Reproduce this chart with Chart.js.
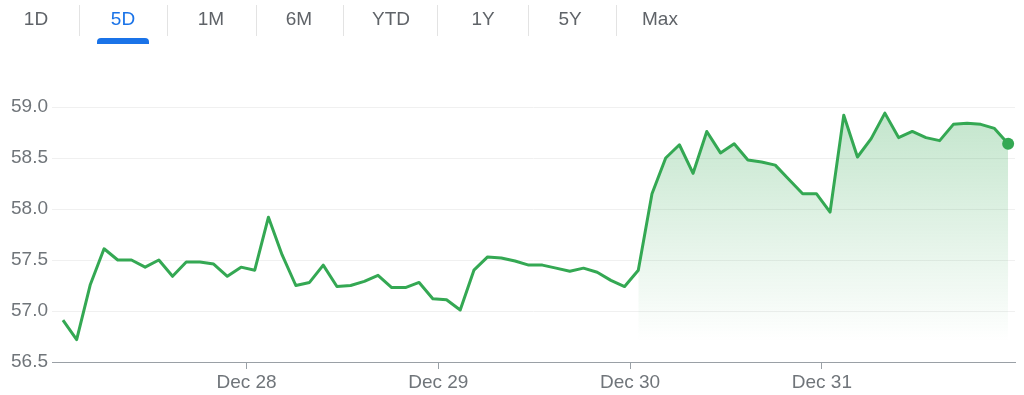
<!DOCTYPE html>
<html>
<head>
<meta charset="utf-8">
<script src="https://cdn.jsdelivr.net/npm/chart.js@4/dist/chart.umd.min.js"></script>
<style>
  html, body { margin:0; padding:0; background:#fff; }
  body { width:1024px; height:395px; position:relative; overflow:hidden; font-family:Arial, "Liberation Sans", sans-serif; }
  #tabs { position:absolute; left:0; top:0; width:1024px; height:50px; }
  .tab { position:absolute; top:8px; font-size:19px; color:#5f6368; transform:translateX(-50%); white-space:nowrap; }
  .tab.active { color:#1a73e8; }
  .sep { position:absolute; top:5px; width:1px; height:31px; background:#e3e3e3; }
  #underline { position:absolute; left:97px; top:38px; width:52px; height:6px; background:#1a73e8; border-radius:4px 4px 0 0; }
  #wrap { position:absolute; left:0; top:0; width:1024px; height:395px; }
</style>
</head>
<body>
<div id="wrap"><canvas id="chart" width="1024" height="395"></canvas></div>
<div id="tabs"></div>
<script>
// 5 day price series, one point every ~30 min
const prices = [
  56.91, 56.72, 57.26, 57.61, 57.50, 57.50, 57.43, 57.50, 57.34, 57.48,
  57.48, 57.46, 57.34, 57.43, 57.40, 57.92, 57.55, 57.25, 57.28, 57.45,
  57.24, 57.25, 57.29, 57.35, 57.23, 57.23, 57.28, 57.12, 57.11, 57.01,
  57.40, 57.53, 57.52, 57.49, 57.45, 57.45, 57.42, 57.39, 57.42, 57.38,
  57.30, 57.24, 57.40, 58.15, 58.50, 58.63, 58.35, 58.76, 58.55, 58.64,
  58.48, 58.46, 58.43, 58.29, 58.15, 58.15, 57.97, 58.92, 58.51, 58.69,
  58.94, 58.70, 58.76, 58.70, 58.67, 58.83, 58.84, 58.83, 58.79, 58.64
];
const fillFrom = 42;
const tickPositions = [13.4, 27.4, 41.4, 55.4];
const tickLabels = ['Dec 28', 'Dec 29', 'Dec 30', 'Dec 31'];
const yTicks = [56.5, 57.0, 57.5, 58.0, 58.5, 59.0];
const tabs = ['1D', '5D', '1M', '6M', 'YTD', '1Y', '5Y', 'Max'];
const tabCenters = [36, 123, 211, 299, 391, 483, 570, 660];
const sepX = [79, 167, 256, 343, 437, 528, 616];

const green = '#34a853';
const gray = '#70757a';

// tab bar
const tabsEl = document.getElementById('tabs');
tabs.forEach((t, i) => {
  const d = document.createElement('div');
  d.className = 'tab' + (t === '5D' ? ' active' : '');
  d.style.left = tabCenters[i] + 'px';
  d.textContent = t;
  tabsEl.appendChild(d);
});
sepX.forEach(x => { const s = document.createElement('div'); s.className = 'sep'; s.style.left = x + 'px'; tabsEl.appendChild(s); });
const ul = document.createElement('div'); ul.id = 'underline'; tabsEl.appendChild(ul);

const points = prices.map((v, i) => ({ x: i, y: v }));
const fillPoints = points.slice(fillFrom);
const last = points.length - 1;

new Chart(document.getElementById('chart'), {
  type: 'line',
  data: {
    datasets: [
      {
        data: points,
        borderColor: green,
        borderWidth: 3,
        borderJoinStyle: 'round',
        tension: 0,
        pointRadius: c => c.dataIndex === last ? 6 : 0,
        pointBackgroundColor: green,
        pointBorderWidth: 0,
        fill: false,
        order: 0
      },
      {
        data: fillPoints,
        borderWidth: 0,
        pointRadius: 0,
        tension: 0,
        fill: 'start',
        order: 1,
        backgroundColor: c => {
          const a = c.chart.chartArea;
          if (!a) return 'rgba(52,168,83,0.2)';
          const g = c.chart.ctx.createLinearGradient(0, a.top, 0, a.bottom - 20);
          g.addColorStop(0, 'rgba(52,168,83,0.30)');
          g.addColorStop(1, 'rgba(52,168,83,0)');
          return g;
        }
      }
    ]
  },
  options: {
    responsive: false,
    animation: false,
    layout: { padding: { top: 107, right: 9, left: 0, bottom: 0 } },
    plugins: { legend: { display: false }, tooltip: { enabled: false } },
    scales: {
      x: {
        type: 'linear',
        min: -0.8,
        max: 69.5,
        afterBuildTicks: s => { s.ticks = tickPositions.map(v => ({ value: v })); },
        afterFit: s => { s.height = 33; },
        grid: { drawOnChartArea: false, drawTicks: true, tickLength: 7, tickColor: '#9aa0a6' },
        border: { display: true, color: '#9aa0a6', width: 1 },
        ticks: {
          autoSkip: false,
          maxRotation: 0,
          padding: 2,
          color: gray,
          font: { family: 'Arial, "Liberation Sans", sans-serif', size: 19 },
          callback: (v, i) => tickLabels[i]
        }
      },
      y: {
        min: 56.5,
        max: 59.0,
        afterBuildTicks: s => { s.ticks = yTicks.map(v => ({ value: v })); },
        afterFit: s => { s.width = 52; },
        grid: { color: '#f0f0f0', drawTicks: false, lineWidth: 1 },
        border: { display: false },
        ticks: {
          padding: 4,
          color: gray,
          font: { family: 'Arial, "Liberation Sans", sans-serif', size: 19 },
          callback: v => v.toFixed(1)
        }
      }
    }
  }
});
</script>
</body>
</html>
